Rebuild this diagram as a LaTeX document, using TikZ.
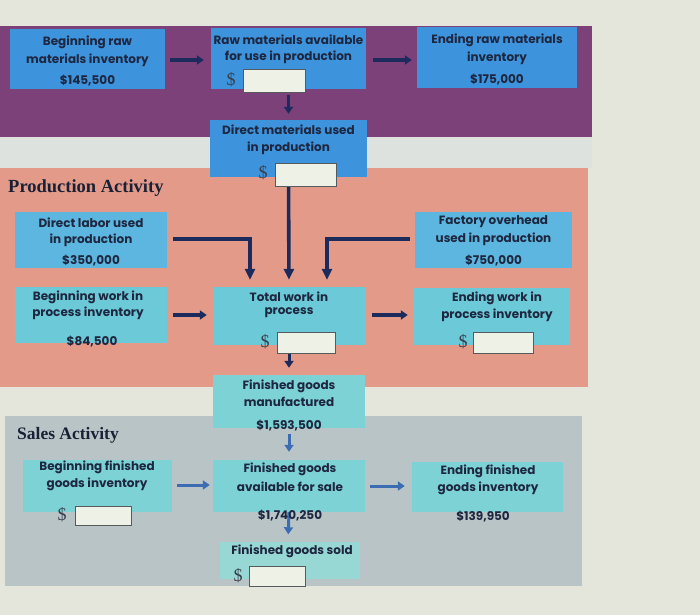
\documentclass[tikz,border=0pt]{standalone}
\usepackage{fontspec}
\setmainfont{Poppins}
\newfontfamily\labelfont{Liberation Serif}
\usetikzlibrary{arrows.meta}
\definecolor{pagebg}{HTML}{E4E6DB}
\definecolor{purpleband}{HTML}{7B4178}
\definecolor{stripbg}{HTML}{DDE2DF}
\definecolor{salmonband}{HTML}{E49A89}
\definecolor{salesband}{HTML}{B9C4C7}
\definecolor{rawblue}{HTML}{3E93DD}
\definecolor{labblue}{HTML}{5CB6E0}
\definecolor{wipteal}{HTML}{6CC9D8}
\definecolor{fgteal}{HTML}{7DD2D6}
\definecolor{fgsteal}{HTML}{98D8D4}
\definecolor{ink}{HTML}{1E2740}
\definecolor{navy}{HTML}{1C2B5C}
\definecolor{salesarrow}{HTML}{3C6DB3}
\definecolor{fieldfill}{HTML}{EEF2E6}
\definecolor{fieldedge}{HTML}{555A5E}
\definecolor{dollar}{HTML}{383E4C}
\tikzset{
  box/.style={rectangle, inner sep=0pt, draw=none},
  txt/.style={inner sep=0pt, text=ink, font=\fontsize{12}{13}\selectfont\bfseries},
  money/.style={inner sep=0pt, text=dollar, font=\labelfont\fontsize{18}{18}\selectfont},
  field/.style={rectangle, inner sep=0pt, draw=fieldedge, fill=fieldfill, line width=0.9pt},
  seclabel/.style={inner sep=0pt, anchor=west, text=ink!85!black, font=\labelfont\fontsize{18.5}{18}\selectfont\bfseries},
  conn/.style={line width=3.6pt, draw=navy},
  harr/.style={line width=3.4pt, draw=navy, -{Triangle[length=7pt,width=9pt]}},
  varr/.style={line width=3.6pt, draw=navy, -{Triangle[length=11pt,width=10pt]}},
  sarr/.style={line width=3pt, draw=salesarrow, -{Triangle[length=7pt,width=9pt]}},
}
\begin{document}
\begin{tikzpicture}[x=1pt,y=-1pt]
\useasboundingbox (0,0) rectangle (700,615);
% backgrounds
\fill[pagebg] (0,0) rectangle (700,615);
\fill[purpleband] (0,26) rectangle (592,137);
\fill[stripbg] (0,137) rectangle (592,168);
\fill[salmonband] (0,168) rectangle (588,387);
\fill[salesband] (5,416) rectangle (582,586);

% boxes
\node[box, fill=rawblue, minimum width=155pt, minimum height=60pt] (brm) at (87.5,59) {};
\node[box, fill=rawblue, minimum width=155pt, minimum height=61pt] (rma) at (288.5,58.5) {};
\node[box, fill=rawblue, minimum width=160pt, minimum height=61pt] (erm) at (497,57.5) {};
\node[box, fill=rawblue, minimum width=157pt, minimum height=57pt] (dmu) at (288.5,148.5) {};
\node[box, fill=labblue, minimum width=152pt, minimum height=56pt] (dl) at (91,240) {};
\node[box, fill=labblue, minimum width=157pt, minimum height=56pt] (fo) at (493.5,240) {};
\node[box, fill=wipteal, minimum width=152pt, minimum height=56pt] (bwip) at (91,315) {};
\node[box, fill=wipteal, minimum width=152pt, minimum height=58pt] (twip) at (289,316) {};
\node[box, fill=wipteal, minimum width=157pt, minimum height=57pt] (ewip) at (491.5,316.5) {};
\node[box, fill=fgteal, minimum width=152pt, minimum height=53pt] (fgm) at (289,401.5) {};
\node[box, fill=fgteal, minimum width=152pt, minimum height=52pt] (fgas) at (289,486) {};
\node[box, fill=fgsteal, minimum width=140pt, minimum height=37pt] (fgs) at (290,560) {};
\node[box, fill=fgteal, minimum width=149pt, minimum height=52pt] (bfg) at (97.5,486) {};
\node[box, fill=fgteal, minimum width=151pt, minimum height=50pt] (efg) at (487.5,487) {};

% connectors
\draw[harr, shorten <=5pt, shorten >=7pt] (brm.east |- 0,60) -- (rma.west |- 0,60);
\draw[harr, shorten <=7pt, shorten >=5pt] (rma.east |- 0,60) -- (erm.west |- 0,60);
\draw[harr, line width=3pt, shorten <=6pt, shorten >=6pt] (rma.south) -- (dmu.north);
\draw[varr, shorten <=6pt, shorten >=7pt] (dl.east |- 0,239) -| ([xshift=-39pt]twip.north);
\draw[varr, shorten >=7pt] (dmu.south) -- (twip.north);
\draw[varr, shorten <=5pt, shorten >=7pt] (fo.west |- 0,239) -| ([xshift=38pt]twip.north);
\draw[harr, shorten <=6pt, shorten >=6pt] (bwip.east |- 0,315) -- (twip.west |- 0,315);
\draw[harr, shorten <=7pt, shorten >=5pt] (twip.east |- 0,315) -- (ewip.west |- 0,315);
\draw[harr, line width=3pt, shorten <=8pt, shorten >=7pt] (twip.south) -- (fgm.north);
\draw[sarr, shorten <=6pt, shorten >=8pt] (fgm.south) -- (fgas.north);
\draw[sarr, shorten <=0pt, shorten >=7pt] (fgas.south) -- ([xshift=-2pt]fgs.north);
\draw[sarr, shorten <=5pt, shorten >=3pt] (bfg.east |- 0,485) -- (fgas.west |- 0,485);
\draw[sarr, shorten <=5pt, shorten >=7pt] (fgas.east |- 0,486) -- (efg.west |- 0,486);

% input fields
\node[field, minimum width=62pt, minimum height=23pt] (frma) at (274,80.5) {};
\node[field, minimum width=61pt, minimum height=23pt] (fdmu) at (305.5,174.5) {};
\node[field, minimum width=58pt, minimum height=21pt] (ftwip) at (306,342.5) {};
\node[field, minimum width=60pt, minimum height=21pt] (fewip) at (503,342.5) {};
\node[field, minimum width=56pt, minimum height=20pt] (ffgs) at (277,576) {};
\node[field, minimum width=56pt, minimum height=19pt] (fbfg) at (103,515.5) {};

% section labels
\node[seclabel] (lprod) at (8,188) {Production Activity};
\node[seclabel, font=\labelfont\fontsize{17.5}{18}\selectfont\bfseries] (lsales) at (17,435) {Sales Activity};

% texts
\node[txt] (t1a) at (87.5,42) {Beginning raw};
\node[txt] (t1b) at (87.5,60) {materials inventory};
\node[txt] (t1c) at (87.5,81) {\$145,500};

\node[txt] (t2a) at (288.5,40) {Raw materials available};
\node[txt] (t2b) at (288.5,57) {for use in production};
\node[money] (t2c) at (231,80) {\$};

\node[txt] (t3a) at (497,40) {Ending raw materials};
\node[txt] (t3b) at (497,58) {inventory};
\node[txt] (t3c) at (497,80) {\$175,000};

\node[txt] (t4a) at (288.5,130) {Direct materials used};
\node[txt] (t4b) at (288.5,148) {in production};
\node[money] (t4c) at (263,173) {\$};

\node[txt] (t5a) at (91,223) {Direct labor used};
\node[txt] (t5b) at (91,240) {in production};
\node[txt] (t5c) at (91,261) {\$350,000};

\node[txt] (t6a) at (493.5,222) {Factory overhead};
\node[txt] (t6b) at (493.5,239) {used in production};
\node[txt] (t6c) at (493.5,261) {\$750,000};

\node[txt] (t7a) at (88,297) {Beginning work in};
\node[txt] (t7b) at (88,313) {process inventory};
\node[txt] (t7c) at (92,342) {\$84,500};

\node[txt] (t8a) at (289,297) {Total work in};
\node[txt] (t8b) at (289,313) {process};
\node[money] (t8c) at (265,342) {\$};

\node[txt] (t9a) at (497,298) {Ending work in};
\node[txt] (t9b) at (497,315) {process inventory};
\node[money] (t9c) at (463,342) {\$};

\node[txt] (t10a) at (289,386) {Finished goods};
\node[txt] (t10b) at (289,402) {manufactured};
\node[txt] (t10c) at (289,426) {\$1,593,500};

\node[txt] (t11a) at (290,469) {Finished goods};
\node[txt] (t11b) at (290,487) {available for sale};
\node[txt] (t11c) at (290,516) {\$1,740,250};

\node[txt] (t12a) at (292,551) {Finished goods sold};
\node[money] (t12c) at (238,576) {\$};

\node[txt] (t13a) at (97,467) {Beginning finished};
\node[txt] (t13b) at (97,484) {goods inventory};
\node[money] (t13c) at (62,515) {\$};

\node[txt] (t14a) at (488,471) {Ending finished};
\node[txt] (t14b) at (488,488) {goods inventory};
\node[txt] (t14c) at (483,517) {\$139,950};
\end{tikzpicture}
\end{document}
